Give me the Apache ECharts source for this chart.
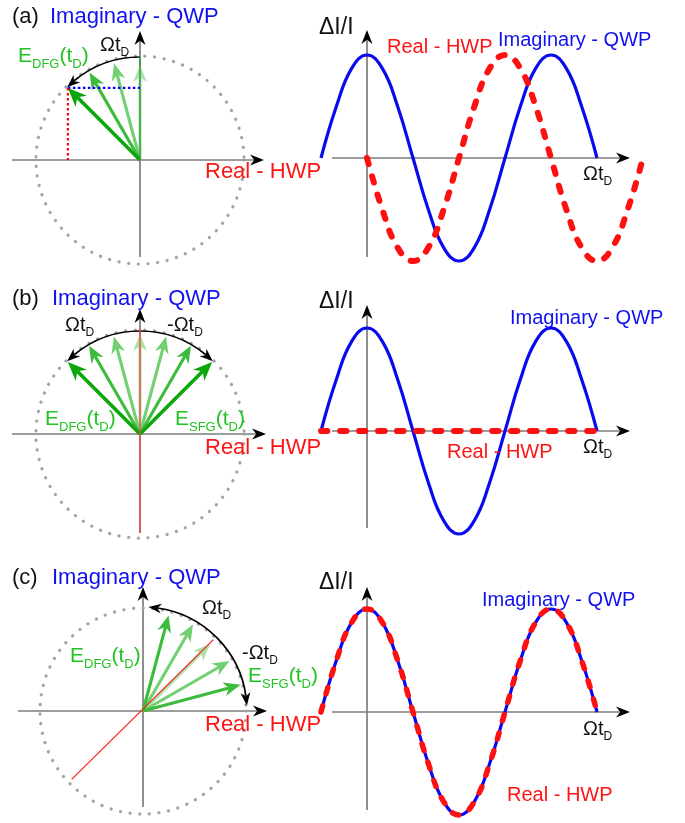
<!DOCTYPE html>
<html><head><meta charset="utf-8">
<script src="https://cdn.jsdelivr.net/npm/echarts@6/dist/echarts.min.js"></script>
<style>html,body{margin:0;padding:0;background:#fff}#c{width:685px;height:823px}</style>
</head><body><div id="c"></div><script>
// ===================== DATA =====================
// phase (degrees) for the ΔI/I curves
const PHASE_X      = [-90,-60,-30,0,30,60,90,120,150,180,210,240,270,300,330,360,390,420,450];
const PHASE_X_REAL_A = [0,30,60,90,120,150,180,210,240,270,300,330,360,390,420,450,480,510,540];
// (a)
const IMAG_A = [0,0.5,0.87,1,0.87,0.5,0,-0.5,-0.87,-1,-0.87,-0.5,0,0.5,0.87,1,0.87,0.5,0];
const REAL_A = [0,-0.5,-0.87,-1,-0.87,-0.5,0,0.5,0.87,1,0.87,0.5,0,-0.5,-0.87,-1,-0.87,-0.5,0];
// (b)
const IMAG_B = [0,0.5,0.87,1,0.87,0.5,0,-0.5,-0.87,-1,-0.87,-0.5,0,0.5,0.87,1,0.87,0.5,0];
const REAL_B = [0,0,0,0,0,0,0,0,0,0,0,0,0,0,0,0,0,0,0];
// (c)
const IMAG_C = [0,0.5,0.87,1,0.87,0.5,0,-0.5,-0.87,-1,-0.87,-0.5,0,0.5,0.87,1,0.87,0.5,0];
const REAL_C = [0,0.5,0.87,1,0.87,0.5,0,-0.5,-0.87,-1,-0.87,-0.5,0,0.5,0.87,1,0.87,0.5,0];

// phasor arrows: angle (deg), length (unit circle)
const ARROW_ANG_A = [90,105,120,135];
const ARROW_LEN_A = [0.93,0.98,0.99,1.0];
const ARROW_ANG_B = [90,105,75,120,60,135,45];
const ARROW_LEN_B = [0.98,0.99,0.99,1.0,1.0,1.0,1.0];
const ARROW_ANG_C = [45,30,60,75,15];
const ARROW_LEN_C = [0.93,0.98,0.98,0.97,0.99];
// rotation arcs: [start deg, end deg, radius]
const ARC_A = [90,135,1.01];
const ARC_B = [45,135,1.01];
const ARC_C = [3,87,1.02];
// circle radius
const CIRCLE_R = [1.02,1.02,1.01];
// real-part reference lines
const REAL_LINE_B = [[0,1.03],[0,-0.97]];
const REAL_LINE_C = [[0.69,0.70],[-0.70,-0.67]];
const IMAG_LINE_A = [[0,0],[0,1.02]];

// ===================== STYLE / LAYOUT =====================
const W=685,H=823;
const FONT='"Liberation Sans", Arial, sans-serif';
const GREENS=['#0aa60a','#3cbb3c','#72d072','#a9e3a9'];
const SHADE_A=[3,2,1,0];
const SHADE_B=[3,2,2,1,1,0,0];
const SHADE_C=[3,2,2,1,1];
const ARROW_DIR_A=[0,1], ARROW_DIR_B=[1,1], ARROW_DIR_C=[1,1];
const LS=102;            // px per unit (phasor panels)
const RSX=46/90, RSY=103; // px per degree / per unit (curve panels)
const PL=[{ox:140,oy:160,hx:[12,264],vy:[257,31]},{ox:140,oy:434,hx:[12,266],vy:[533,309]},{ox:143,oy:711,hx:[18,267],vy:[807,587]}];
const PR=[{ox:367,oy:158,hx:[332,630],vy:[257,30]},{ox:367,oy:431,hx:[332,630],vy:[528,305]},{ox:367,oy:712,hx:[332,630],vy:[810,587]}];

const grids=[],xAxes=[],yAxes=[],series=[];
function addGrid(ox,oy,sx,sy){
  grids.push({left:0,top:0,width:W,height:H});
  xAxes.push({type:'value',gridIndex:grids.length-1,min:-ox/sx,max:(W-ox)/sx,show:false});
  yAxes.push({type:'value',gridIndex:grids.length-1,min:-(H-oy)/sy,max:oy/sy,show:false});
  return grids.length-1;
}
function head(tip,from,len,w,notch){
  const dx=tip[0]-from[0],dy=tip[1]-from[1],d=Math.hypot(dx,dy)||1;
  const ux=dx/d,uy=dy/d,nx=-uy,ny=ux;
  const bx=tip[0]-ux*len,by=tip[1]-uy*len;
  const neck=[tip[0]-ux*len*(1-notch),tip[1]-uy*len*(1-notch)];
  return {points:[tip,[bx+nx*w/2,by+ny*w/2],neck,[bx-nx*w/2,by-ny*w/2]],neck};
}
function axisRender(params,api){
  const p0=api.coord([api.value(0),api.value(1)]);
  const p1=api.coord([api.value(2),api.value(3)]);
  const h=head(p1,p0,14,11,0.3);
  return {type:'group',children:[
    {type:'line',shape:{x1:p0[0],y1:p0[1],x2:h.neck[0],y2:h.neck[1]},style:{stroke:'#7d7d7d',lineWidth:1.7}},
    {type:'polygon',shape:{points:h.points},style:{fill:'#000'}}]};
}
function addAxes(gi,P,sx,sy){
  series.push({type:'custom',xAxisIndex:gi,yAxisIndex:gi,silent:true,renderItem:axisRender,
    data:[[(P.hx[0]-P.ox)/sx,0,(P.hx[1]-P.ox)/sx,0],[0,(P.oy-P.vy[0])/sy,0,(P.oy-P.vy[1])/sy]]});
}
function circleRender(params,api){
  const o=api.coord([0,0]); const r=api.size([api.value(0),0])[0];
  return {type:'circle',shape:{cx:o[0],cy:o[1],r:r},style:{fill:null,stroke:'#a3a3a3',lineWidth:3.2,lineDash:[0.1,9.6],lineCap:'round'}};
}
function arrowRender(params,api){
  const a=api.value(0)*Math.PI/180,len=api.value(1),sh=api.value(2);
  const o=api.coord([0,0]); const t=api.coord([len*Math.cos(a),len*Math.sin(a)]);
  const c=GREENS[sh]; const main=sh===0;
  const h=head(t,o,main?19:17,main?16:14,0.3);
  return {type:'group',children:[
    {type:'line',shape:{x1:o[0],y1:o[1],x2:h.neck[0],y2:h.neck[1]},style:{stroke:c,lineWidth:main?3.6:3.1}},
    {type:'polygon',shape:{points:h.points},style:{fill:c}}]};
}
function arcRender(params,api){
  const s=api.value(0),e=api.value(1),r=api.value(2),as=api.value(3),ae=api.value(4);
  const o=api.coord([0,0]); const rp=api.size([r,0])[0];
  const pt=(deg)=>api.coord([r*Math.cos(deg*Math.PI/180),r*Math.sin(deg*Math.PI/180)]);
  const hl=13, dd=hl/rp*180/Math.PI;
  const s2=as?s+dd*0.7:s, e2=ae?e-dd*0.7:e;
  const ch=[{type:'arc',shape:{cx:o[0],cy:o[1],r:rp,startAngle:-e2*Math.PI/180,endAngle:-s2*Math.PI/180,clockwise:true},style:{fill:null,stroke:'#000',lineWidth:1.7}}];
  if(ae){const h=head(pt(e),pt(e-dd),hl,10,0.3);ch.push({type:'polygon',shape:{points:h.points},style:{fill:'#000'}});}
  if(as){const h=head(pt(s),pt(s+dd),hl,10,0.3);ch.push({type:'polygon',shape:{points:h.points},style:{fill:'#000'}});}
  return {type:'group',children:ch};
}
function seg(gi,data,color,width,type){
  series.push({type:'line',xAxisIndex:gi,yAxisIndex:gi,data:data,symbol:'none',silent:true,
    lineStyle:{color:color,width:width,type:type||'solid'}});
}
function curve(gi,xs,ys,color,width,dashed){
  series.push({type:'line',xAxisIndex:gi,yAxisIndex:gi,data:xs.map((x,i)=>[x,ys[i]]),symbol:'none',smooth:0.45,silent:true,clip:false,
    lineStyle:dashed?{color:color,width:width,type:[6.5,12.5],cap:'round'}:{color:color,width:width}});
}

// ---- phasor panels ----
const ANG=[ARROW_ANG_A,ARROW_ANG_B,ARROW_ANG_C], LEN=[ARROW_LEN_A,ARROW_LEN_B,ARROW_LEN_C], SH=[SHADE_A,SHADE_B,SHADE_C];
const ARCS=[ARC_A,ARC_B,ARC_C], ADIR=[ARROW_DIR_A,ARROW_DIR_B,ARROW_DIR_C];
for(let k=0;k<3;k++){
  const P=PL[k]; const gi=addGrid(P.ox,P.oy,LS,LS);
  addAxes(gi,P,LS,LS);
  series.push({type:'custom',xAxisIndex:gi,yAxisIndex:gi,silent:true,renderItem:circleRender,data:[[CIRCLE_R[k]]]});
  series.push({type:'custom',xAxisIndex:gi,yAxisIndex:gi,silent:true,renderItem:arrowRender,
    data:ANG[k].map((a,i)=>[a,LEN[k][i],SH[k][i]])});
  if(k===0){
    seg(gi,IMAG_LINE_A,'#3f9f3f',1.6);
    const a=ARROW_ANG_A[3]*Math.PI/180, L=ARROW_LEN_A[3];
    const tx=L*Math.cos(a), ty=L*Math.sin(a);
    seg(gi,[[tx,ty],[0,ty]],'#0000ff',2.2,[2.5,2.5]);
    seg(gi,[[tx,ty],[tx,0]],'#ff0000',2.2,[2.5,2.5]);
  }
  if(k===1) seg(gi,REAL_LINE_B,'#e8504a',1.5);
  if(k===2) seg(gi,REAL_LINE_C,'#ff1a1a',1.2);
  series.push({type:'custom',xAxisIndex:gi,yAxisIndex:gi,silent:true,renderItem:arcRender,
    data:[[ARCS[k][0],ARCS[k][1],ARCS[k][2],ADIR[k][0],ADIR[k][1]]]});
}
// ---- curve panels ----
const IM=[IMAG_A,IMAG_B,IMAG_C], RE=[REAL_A,REAL_B,REAL_C], REX=[PHASE_X_REAL_A,PHASE_X,PHASE_X];
for(let k=0;k<3;k++){
  const P=PR[k]; const gi=addGrid(P.ox,P.oy,RSX,RSY);
  addAxes(gi,P,RSX,RSY);
  curve(gi,PHASE_X,IM[k],'#0a0aee',3.2,false);
  curve(gi,REX[k],RE[k],'#ff1010',k===2?5.5:6,true);
}

// ---- texts ----
function T(x,y,parts,color,size){
  const sub=Math.round(size*0.62), pad=Math.round(size*0.8);
  const text=parts.map(p=>'{'+(p[1]?'s':'m')+'|'+p[0]+'}').join('');
  return {type:'text',x:x,y:y,z:100,silent:true,style:{text:text,fill:color,font:size+'px '+FONT,verticalAlign:'middle',align:'left',
    rich:{m:{fontSize:size,fontFamily:FONT,fill:color},s:{fontSize:sub,fontFamily:FONT,fill:color,padding:[pad,0,0,0]}}}};
}
const OM=[['Ωt'],['D',1]], MOM=[['-Ωt'],['D',1]];
const EDFG=[['E'],['DFG',1],['(t'],['D',1],[')']], ESFG=[['E'],['SFG',1],['(t'],['D',1],[')']];
const BLUE='#1010f0', RED='#ff1414', GRN='#22c322';
const graphics=[
  T(12,17,[['(a)']],'#111',22), T(50,17,[['Imaginary - QWP']],BLUE,22),
  T(18,56,EDFG,GRN,21), T(100,45,OM,'#111',20), T(205,172,[['Real - HWP']],RED,22),
  T(319,28,[['ΔI/I']],'#111',23), T(387,47,[['Real - HWP']],RED,20), T(498,40,[['Imaginary - QWP']],BLUE,20),
  T(583,174,OM,'#111',20),

  T(12,299,[['(b)']],'#111',22), T(52,299,[['Imaginary - QWP']],BLUE,22),
  T(65,325,OM,'#111',20), T(167,325,MOM,'#111',20),
  T(45,419,EDFG,GRN,21), T(175,419,ESFG,GRN,21), T(205,448,[['Real - HWP']],RED,22),
  T(319,302,[['ΔI/I']],'#111',23), T(510,318,[['Imaginary - QWP']],BLUE,20), T(447,452,[['Real - HWP']],RED,20),
  T(583,447,OM,'#111',20),

  T(12,578,[['(c)']],'#111',22), T(52,578,[['Imaginary - QWP']],BLUE,22),
  T(202,608,OM,'#111',20), T(242,653,MOM,'#111',20),
  T(70,656,EDFG,GRN,21), T(248,676,ESFG,GRN,21), T(205,725,[['Real - HWP']],RED,22),
  T(319,583,[['ΔI/I']],'#111',23), T(482,600,[['Imaginary - QWP']],BLUE,20), T(507,795,[['Real - HWP']],RED,20),
  T(583,729,OM,'#111',20)
];

const chart=echarts.init(document.getElementById('c'),null,{renderer:'canvas'});
chart.setOption({animation:false,backgroundColor:'#fff',grid:grids,xAxis:xAxes,yAxis:yAxes,series:series,graphic:graphics});
</script></body></html>
